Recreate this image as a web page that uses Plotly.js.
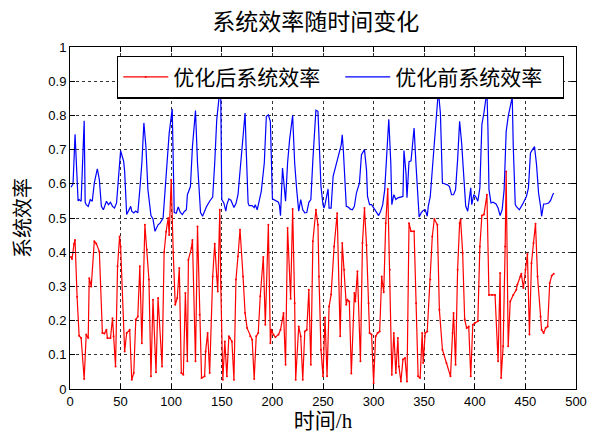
<!DOCTYPE html>
<html><head><meta charset="utf-8">
<script src="https://cdn.plot.ly/plotly-3.0.1.min.js"></script>
<style>html,body{margin:0;padding:0;background:#fff}#chart{width:590px;height:439px}</style>
</head><body><div id="chart"></div>
<script>
const titleText = "系统效率随时间变化";
const xTitle = "时间/h";
const yTitle = "系统效率";
const nameAfter = "优化后系统效率";
const nameBefore = "优化前系统效率";
const xTicks = [0,50,100,150,200,250,300,350,400,450,500];
const yTicks = [0,0.1,0.2,0.3,0.4,0.5,0.6,0.7,0.8,0.9,1];

const blueX = [1,3,5,8,9,11,14,15,16,18,20,22,24,27,29,31,33,36,38,40,42,44,46,48,50,53,54,56,58,60,61,63,65,67,69,71,73,75,77,80,82,84,87,89,92,95,98,101,103,105,107,109,111,113,115,116,119,121,124,126,128,129,131,133,135,138,141,143,145,148,149,150,152,154,155,157,159,162,164,166,168,171,173,174,176,177,180,182,183,185,187,189,192,194,196,198,200,203,206,207,208,210,213,215,217,220,222,224,226,228,230,232,234,236,238,240,242,243,245,248,250,251,252,255,256,258,260,263,265,268,269,270,273,275,277,279,281,283,286,288,291,293,294,296,298,301,303,305,307,309,311,313,315,317,318,320,322,324,326,329,330,332,333,335,337,339,340,342,344,345,347,349,351,353,354,356,358,361,363,364,366,368,370,373,375,377,379,381,383,385,387,389,391,393,395,396,397,399,401,403,405,407,409,412,413,414,416,418,421,423,425,427,429,431,433,435,437,438,440,441,444,447,449,451,453,455,457,459,461,463,465,466,468,470,473,475,477,478];
const blueY = [0.59,0.60,0.745,0.55,0.554,0.549,0.784,0.546,0.539,0.534,0.554,0.549,0.602,0.644,0.612,0.534,0.524,0.549,0.539,0.546,0.534,0.529,0.544,0.612,0.697,0.666,0.636,0.51,0.52,0.534,0.52,0.515,0.52,0.515,0.583,0.661,0.778,0.709,0.583,0.507,0.497,0.461,0.48,0.485,0.50,0.641,0.748,0.819,0.516,0.514,0.532,0.516,0.51,0.519,0.524,0.568,0.592,0.709,0.814,0.661,0.554,0.516,0.505,0.52,0.534,0.549,0.561,0.661,0.787,0.873,0.846,0.554,0.544,0.52,0.539,0.556,0.552,0.531,0.542,0.568,0.632,0.729,0.807,0.709,0.544,0.536,0.536,0.53,0.539,0.524,0.549,0.578,0.661,0.797,0.802,0.782,0.556,0.551,0.546,0.536,0.507,0.646,0.549,0.661,0.729,0.80,0.661,0.583,0.52,0.554,0.524,0.515,0.516,0.546,0.554,0.67,0.778,0.815,0.812,0.592,0.539,0.529,0.539,0.585,0.529,0.529,0.622,0.656,0.68,0.714,0.743,0.704,0.534,0.532,0.526,0.524,0.534,0.573,0.602,0.685,0.70,0.64,0.563,0.539,0.539,0.524,0.515,0.507,0.52,0.539,0.583,0.709,0.789,0.661,0.539,0.568,0.554,0.559,0.561,0.563,0.697,0.632,0.559,0.665,0.667,0.719,0.763,0.651,0.534,0.503,0.515,0.522,0.524,0.505,0.534,0.563,0.641,0.748,0.826,0.872,0.807,0.602,0.60,0.597,0.592,0.568,0.568,0.583,0.67,0.783,0.719,0.612,0.535,0.52,0.58,0.588,0.539,0.568,0.562,0.549,0.588,0.773,0.807,0.872,0.758,0.583,0.544,0.546,0.541,0.529,0.507,0.524,0.583,0.753,0.797,0.831,0.854,0.709,0.539,0.534,0.524,0.539,0.549,0.563,0.588,0.69,0.70,0.709,0.656,0.573,0.534,0.505,0.541,0.541,0.544,0.552,0.568,0.573];

const redX = [1,2,4,5,7,9,11,14,16,18,19,21,24,26,29,32,34,36,37,40,42,43,45,47,49,50,54,56,59,61,63,65,67,69,71,74,76,78,80,82,85,87,91,93,95,97,98,100,102,104,106,108,110,112,114,116,117,120,121,124,126,128,130,133,134,136,138,141,143,145,146,148,149,151,153,155,157,158,160,162,164,166,168,171,173,175,178,180,182,184,186,188,191,193,196,198,199,201,203,206,208,211,213,215,218,220,222,223,226,228,230,232,234,236,238,240,243,245,246,248,250,252,254,256,258,261,264,267,269,271,273,274,276,278,281,282,284,287,289,291,293,295,296,298,300,302,304,306,308,310,312,314,316,318,320,322,324,325,327,329,331,333,335,337,340,342,344,346,348,349,351,353,356,358,360,363,365,368,372,376,378,379,381,383,385,386,388,390,392,394,396,398,400,403,405,407,409,412,414,417,420,423,425,426,428,430,431,433,435,438,441,442,445,446,448,450,452,454,456,458,460,462,465,466,468,470,472,474,476,478];
const redY = [0.386,0.38,0.425,0.436,0.27,0.156,0.149,0.029,0.159,0.149,0.324,0.30,0.432,0.425,0.402,0.164,0.162,0.173,0.149,0.149,0.207,0.154,0.066,0.359,0.446,0.417,0.11,0.164,0.173,0.027,0.047,0.203,0.212,0.359,0.134,0.48,0.407,0.32,0.037,0.261,0.049,0.266,0.066,0.40,0.46,0.50,0.45,0.612,0.40,0.246,0.266,0.354,0.047,0.042,0.281,0.081,0.378,0.412,0.436,0.081,0.475,0.217,0.032,0.037,0.11,0.164,0.047,0.329,0.425,0.329,0.285,0.524,0.30,0.027,0.139,0.037,0.154,0.149,0.139,0.027,0.32,0.388,0.466,0.329,0.222,0.178,0.154,0.144,0.029,0.154,0.164,0.271,0.386,0.188,0.48,0.134,0.173,0.159,0.152,0.159,0.173,0.222,0.071,0.471,0.264,0.526,0.251,0.027,0.183,0.154,0.027,0.168,0.173,0.29,0.071,0.432,0.524,0.48,0.329,0.115,0.037,0.209,0.037,0.241,0.276,0.417,0.514,0.154,0.427,0.349,0.246,0.261,0.256,0.045,0.281,0.256,0.344,0.081,0.427,0.529,0.42,0.251,0.164,0.159,0.017,0.154,0.164,0.168,0.329,0.283,0.485,0.585,0.349,0.042,0.164,0.047,0.149,0.066,0.022,0.086,0.091,0.022,0.485,0.461,0.461,0.251,0.037,0.032,0.164,0.076,0.164,0.168,0.32,0.446,0.497,0.48,0.232,0.115,0.076,0.037,0.164,0.222,0.071,0.349,0.485,0.495,0.398,0.203,0.178,0.183,0.037,0.188,0.193,0.198,0.417,0.507,0.51,0.568,0.275,0.275,0.275,0.081,0.339,0.032,0.125,0.417,0.636,0.125,0.256,0.275,0.29,0.305,0.329,0.337,0.295,0.349,0.395,0.159,0.368,0.427,0.483,0.329,0.212,0.173,0.164,0.178,0.183,0.31,0.331,0.337];

const cjk = "'Liberation Serif', 'Noto Sans CJK SC', serif";
const data = [
  {x: redX, y: redY, name: nameAfter, type: 'scatter', mode: 'lines+markers',
   line: {color: 'rgb(255,0,0)', width: 1.2}, marker: {color: 'rgb(255,0,0)', size: 2}},
  {x: blueX, y: blueY, name: nameBefore, type: 'scatter', mode: 'lines',
   line: {color: 'rgb(0,0,255)', width: 1.2}}
];
const axisCommon = {
  showline: true, linecolor: 'black', linewidth: 1, mirror: 'allticks',
  ticks: 'inside', ticklen: 5, tickcolor: 'black',
  showgrid: true, gridcolor: 'rgba(0,0,0,0.8)', griddash: 'dot', gridwidth: 1,
  zeroline: false, tickfont: {family: "'Liberation Sans', Arial, sans-serif", size: 13, color: 'black'}
};
const layout = {
  width: 590, height: 439,
  margin: {l: 70, r: 14, t: 47, b: 50, autoexpand: false},
  paper_bgcolor: 'white', plot_bgcolor: 'white',
  title: {text: titleText, font: {family: cjk, size: 23, color: 'black'}, x: 0.535, xanchor: 'center', y: 0.95, yanchor: 'middle'},
  xaxis: Object.assign({}, axisCommon, {range: [0, 500], tickvals: xTicks, ticktext: xTicks.map(String),
    title: {text: xTitle, font: {family: cjk, size: 21, color: 'black'}, standoff: 4}}),
  yaxis: Object.assign({}, axisCommon, {range: [0, 1], tickvals: yTicks, ticktext: yTicks.map(String),
    title: {text: yTitle, font: {family: cjk, size: 20, color: 'black'}, standoff: 12}}),
  showlegend: true,
  legend: {orientation: 'h', x: 0.093, xanchor: 'left', y: 0.975, yanchor: 'top',
    bgcolor: 'white', bordercolor: 'black', borderwidth: 1.2,
    font: {family: cjk, size: 21, color: 'black'}, entrywidth: 162, entrywidthmode: 'pixels',
    traceorder: 'normal', itemwidth: 45, valign: 'middle'}
};
Plotly.newPlot('chart', data, layout, {staticPlot: true, displayModeBar: false});
</script></body></html>
